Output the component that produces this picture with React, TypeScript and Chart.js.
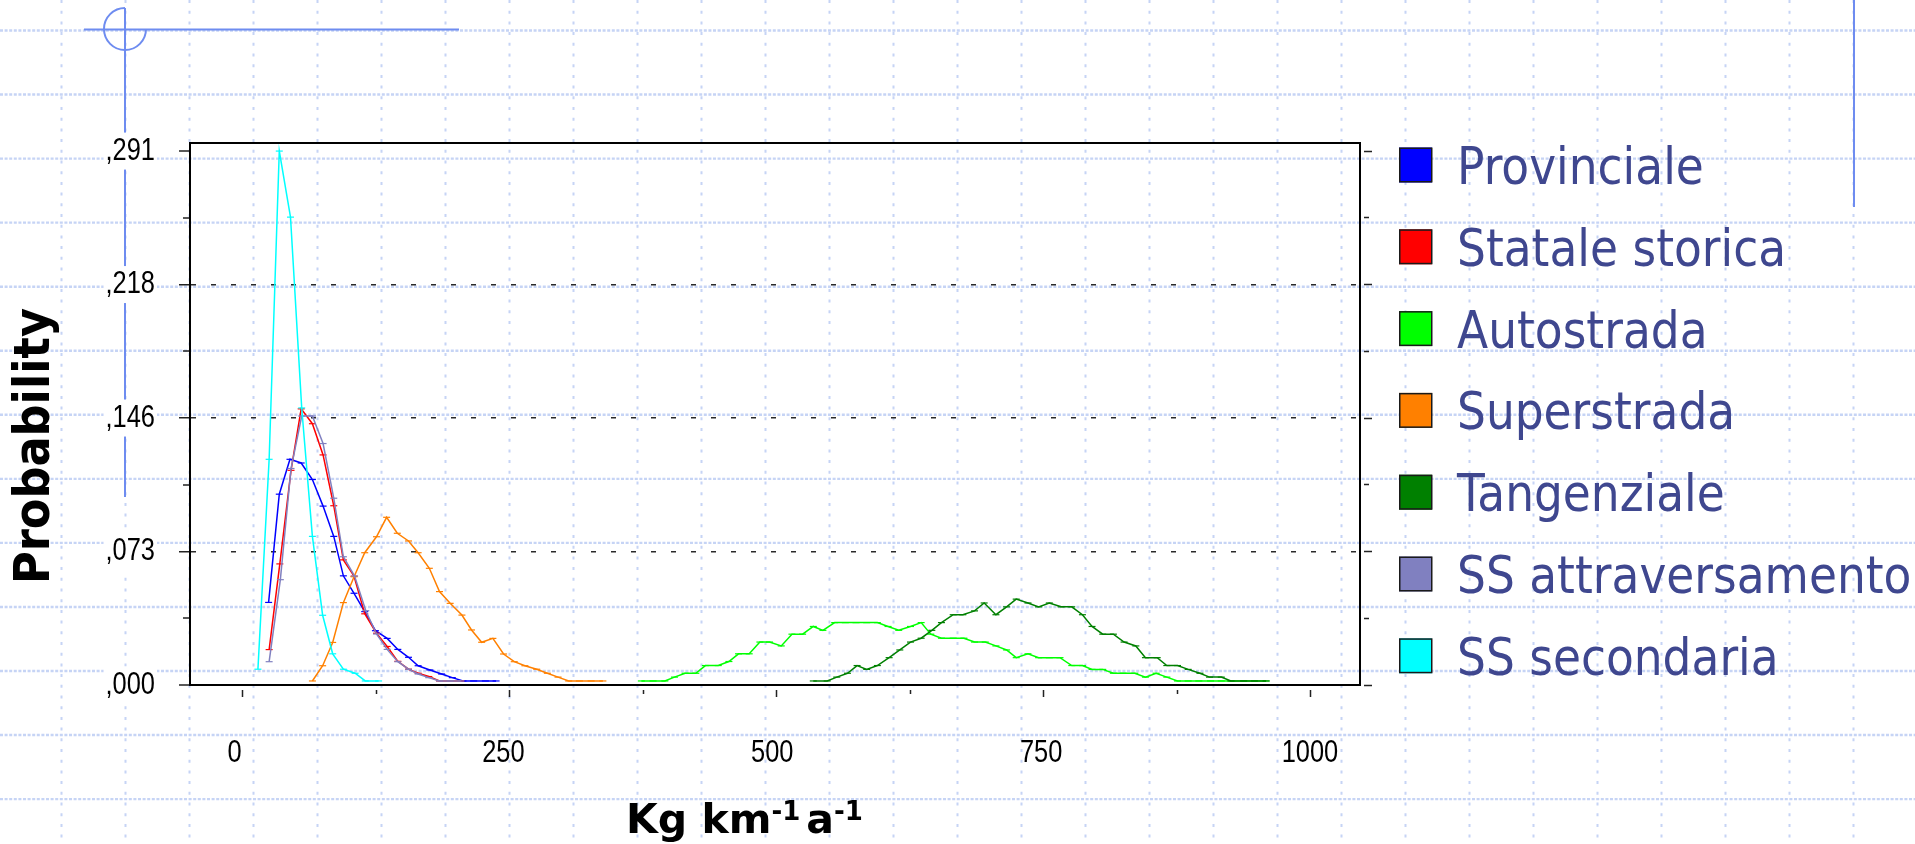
import React, { useEffect, useRef } from 'react';
import { Chart, registerables } from 'chart.js';

Chart.register(...registerables);

// ---------------- data ----------------
const seriesNames = [
  'Provinciale',
  'Statale storica',
  'Autostrada',
  'Superstrada',
  'Tangenziale',
  'SS attraversamento',
  'SS secondaria',
];
const seriesColors = ['#0000ff', '#ff0000', '#00ff00', '#ff8000', '#008000', '#8080c0', '#00ffff'];

const provincialeX = [24, 34, 44, 54.5, 65, 75, 85, 94, 104, 114, 124, 135, 145, 155, 164, 175, 186, 196, 206, 216, 227, 237];
const provincialeY = [0.045, 0.104, 0.123, 0.121, 0.112, 0.0975, 0.081, 0.0595, 0.05, 0.04, 0.0296, 0.0254, 0.0194, 0.0151, 0.0105, 0.0082, 0.006, 0.004, 0.0022, 0.0022, 0.0022, 0.0022];

const stataleX = [24.5, 34.5, 45, 54.5, 65, 75, 85, 94, 104, 114, 125, 135, 145, 155, 164, 174, 184, 194, 204];
const stataleY = [0.0193, 0.066, 0.117, 0.1505, 0.1424, 0.1254, 0.0977, 0.0682, 0.0593, 0.0388, 0.0282, 0.021, 0.0129, 0.0086, 0.0064, 0.0046, 0.0022, 0.0022, 0.0022];

const autostradaX = [373, 384, 395, 404, 414, 424, 433, 445, 455, 464, 474, 484, 493, 504, 514, 524, 534, 543, 554, 564, 574, 584, 594, 604, 614, 625, 635, 644, 654, 665, 675, 685, 695, 705, 715, 724, 735, 745, 755, 765, 776, 786, 795, 805, 815, 824, 835, 845, 855, 865, 875, 885, 895, 906, 916, 926, 937, 947, 958];
const autostradaY = [0.0022, 0.0022, 0.0022, 0.0043, 0.0064, 0.0064, 0.0106, 0.0106, 0.0128, 0.017, 0.017, 0.0234, 0.0234, 0.0213, 0.0277, 0.0277, 0.0319, 0.0298, 0.034, 0.034, 0.034, 0.034, 0.034, 0.0319, 0.0298, 0.0319, 0.034, 0.0277, 0.0255, 0.0255, 0.0255, 0.0234, 0.0234, 0.0213, 0.0191, 0.0149, 0.017, 0.0149, 0.0149, 0.0149, 0.0106, 0.0106, 0.0085, 0.0085, 0.0064, 0.0064, 0.0064, 0.0043, 0.0064, 0.0043, 0.0022, 0.0022, 0.0022, 0.0022, 0.0022, 0.0022, 0.0022, 0.0022, 0.0022];

const superstradaX = [65, 74.6, 84, 94, 104, 114, 125, 134.5, 144.5, 155, 164, 174.5, 184, 194, 205, 214, 223.5, 234, 244, 254, 264, 275, 285, 295, 305, 315, 326, 337];
const superstradaY = [0.0022, 0.0105, 0.0232, 0.0449, 0.059, 0.0721, 0.0808, 0.0914, 0.0827, 0.0785, 0.0721, 0.0636, 0.0509, 0.0445, 0.0381, 0.03, 0.0233, 0.0254, 0.0169, 0.0127, 0.0105, 0.0086, 0.0064, 0.0043, 0.0022, 0.0022, 0.0022, 0.0022];

const tangenzialeX = [534, 547, 556, 566, 575, 584, 594, 605, 615, 625, 635, 645, 654, 665, 674, 685, 694, 705, 715, 724, 735, 745, 755, 766, 776, 786, 795, 805, 815, 825, 836, 845, 856, 865, 875, 885, 896, 905, 916, 925, 937, 947, 958];
const tangenzialeY = [0.0022, 0.0022, 0.0043, 0.0064, 0.0106, 0.0085, 0.0106, 0.0149, 0.0191, 0.0234, 0.0255, 0.0298, 0.034, 0.0383, 0.0383, 0.0404, 0.0447, 0.0383, 0.0426, 0.0468, 0.0447, 0.0426, 0.0447, 0.0426, 0.0426, 0.0383, 0.0319, 0.0277, 0.0277, 0.0234, 0.0213, 0.0149, 0.0149, 0.0106, 0.0106, 0.0085, 0.0064, 0.0043, 0.0043, 0.0022, 0.0022, 0.0022, 0.0022];

const attraversamentoX = [24.5, 35, 45, 55, 65, 75, 85, 94, 104.5, 115, 125, 135, 145, 155, 164, 174, 184, 194, 204];
const attraversamentoY = [0.0127, 0.0574, 0.118, 0.1466, 0.1466, 0.1316, 0.1018, 0.0699, 0.0594, 0.0405, 0.0278, 0.0194, 0.0127, 0.0086, 0.006, 0.004, 0.0022, 0.0022, 0.0022];

const secondariaX = [14, 24.5, 34, 44.5, 55, 65, 74.6, 84, 94, 105, 114.5, 127];
const secondariaY = [0.0086, 0.123, 0.291, 0.255, 0.151, 0.081, 0.038, 0.017, 0.0086, 0.0064, 0.0022, 0.0022];

const xTickValues = [0, 125, 250, 375, 500, 625, 750, 875, 1000];
const xTickLabels = ['0', '', '250', '', '500', '', '750', '', '1000'];
const yTickValues = [0, 0.036375, 0.07275, 0.109125, 0.1455, 0.181875, 0.21825, 0.254625, 0.291];
const yTickLabels = [',000', '', ',073', '', ',146', '', ',218', '', ',291'];
const yGridValues = [0.07275, 0.1455, 0.21825];

const yAxisTitle = 'Probability';
const xAxisTitleParts = [
  { text: 'Kg km', sup: false },
  { text: '-1', sup: true },
  { text: 'a', sup: false },
  { text: '-1', sup: true },
];

const X_MIN = -49.6;
const X_MAX = 1045.9;
const Y_MIN = 0;
const Y_MAX = 0.2954;

// ---------------- helpers ----------------
const seriesX = [provincialeX, stataleX, autostradaX, superstradaX, tangenzialeX, attraversamentoX, secondariaX];
const seriesY = [provincialeY, stataleY, autostradaY, superstradaY, tangenzialeY, attraversamentoY, secondariaY];

const near = (a: number, b: number) => Math.abs(a - b) < 1e-7;
const yLabel = (v: number) => {
  const i = yTickValues.findIndex((t) => near(t, v));
  return i >= 0 ? yTickLabels[i] : '';
};
const xLabel = (v: number) => {
  const i = xTickValues.findIndex((t) => near(t, v));
  return i >= 0 ? xTickLabels[i] : '';
};
const isYGrid = (v: number) => yGridValues.some((g) => near(g, v));

const TICK_FONT = '31px "Liberation Sans", Arial, sans-serif';
const TICK_SQUEEZE = 0.82;

const slidePlugin = {
  id: 'slideDecor',
  beforeDraw(chart: any) {
    const ctx: CanvasRenderingContext2D = chart.ctx;
    const W = chart.width;
    const H = chart.height;
    ctx.save();
    ctx.fillStyle = '#ffffff';
    ctx.fillRect(0, 0, W, H);
    // dotted slide grid
    ctx.strokeStyle = 'rgb(198, 212, 245)';
    ctx.lineWidth = 2.4;
    ctx.setLineDash([3, 1.6]);
    for (let y = 30.5; y < H; y += 64.05) {
      ctx.beginPath();
      ctx.moveTo(0, y);
      ctx.lineTo(W, y);
      ctx.stroke();
    }
    ctx.lineWidth = 2;
    ctx.setLineDash([3, 7.7]);
    for (let x = 61.5; x < W; x += 64) {
      ctx.beginPath();
      ctx.moveTo(x, 0);
      ctx.lineTo(x, H);
      ctx.stroke();
    }
    ctx.setLineDash([]);
    // blue ornaments
    ctx.strokeStyle = '#6e8cf0';
    ctx.lineWidth = 2;
    ctx.beginPath();
    ctx.moveTo(84, 29.5);
    ctx.lineTo(459, 29.5);
    ctx.stroke();
    ctx.beginPath();
    ctx.arc(125, 29, 21, -Math.PI / 2, 0, true);
    ctx.stroke();
    ctx.beginPath();
    ctx.moveTo(125, 8);
    ctx.lineTo(125, 497);
    ctx.stroke();
    ctx.beginPath();
    ctx.moveTo(1854, 0);
    ctx.lineTo(1854, 207);
    ctx.stroke();
    ctx.restore();
  },
  afterDraw(chart: any) {
    const ctx: CanvasRenderingContext2D = chart.ctx;
    ctx.save();

    // y tick labels (condensed, on white backdrop)
    const ys = chart.scales.y;
    ctx.font = TICK_FONT;
    ctx.textBaseline = 'middle';
    yTickValues.forEach((v, i) => {
      const label = yTickLabels[i];
      if (!label) return;
      const py = ys.getPixelForValue(v);
      const right = ys.right - 11 - 24;
      const w = ctx.measureText(label).width * TICK_SQUEEZE;
      ctx.fillStyle = '#ffffff';
      ctx.fillRect(right - w - 2, py - 18.5, w + 4, 37);
      ctx.save();
      ctx.translate(right, py);
      ctx.scale(TICK_SQUEEZE, 1);
      ctx.textAlign = 'right';
      ctx.fillStyle = '#000';
      ctx.fillText(label, 0, 0);
      ctx.restore();
    });

    // x tick labels (the original labels sit slightly left of their ticks, less so to the right)
    const xs = chart.scales.x;
    xTickValues.forEach((v, i) => {
      const label = xTickLabels[i];
      if (!label) return;
      const px = xs.getPixelForValue(v) - 8.5 + 0.0075 * v;
      ctx.save();
      ctx.translate(px, 753);
      ctx.scale(TICK_SQUEEZE, 1);
      ctx.textAlign = 'center';
      ctx.fillStyle = '#000';
      ctx.fillText(label, 0, 0);
      ctx.restore();
    });

    // legend
    const datasets = chart.data.datasets;
    ctx.font = '52px "DejaVu Sans", Tahoma, sans-serif';
    ctx.textAlign = 'left';
    ctx.textBaseline = 'alphabetic';
    datasets.forEach((ds: any, i: number) => {
      const cy = 165 + i * 81.8;
      ctx.fillStyle = ds.backgroundColor;
      ctx.fillRect(1399, cy - 17.5, 33, 35);
      ctx.strokeStyle = '#1a1a1a';
      ctx.lineWidth = 1.5;
      ctx.strokeRect(1399.75, cy - 16.75, 32, 33.5);
      ctx.save();
      ctx.translate(1457, cy + 19);
      ctx.scale(0.875, 1);
      ctx.fillStyle = '#3f478f';
      ctx.fillText(ds.label, 0, 0);
      ctx.restore();
    });

    // y axis title
    ctx.save();
    ctx.translate(49, 446);
    ctx.rotate(-Math.PI / 2);
    ctx.font = 'bold 49px "DejaVu Sans", Verdana, sans-serif';
    ctx.textAlign = 'center';
    ctx.fillStyle = '#000';
    const tw = ctx.measureText(yAxisTitle).width;
    ctx.scale(276 / tw, 1);
    ctx.fillText(yAxisTitle, 0, 0);
    ctx.restore();

    // x axis title with superscripts
    let x = 626;
    const base = 833;
    ctx.fillStyle = '#000';
    ctx.textAlign = 'left';
    xAxisTitleParts.forEach((p, i) => {
      if (p.sup) {
        ctx.font = 'bold 26px "DejaVu Sans", Verdana, sans-serif';
        ctx.fillText(p.text, x, base - 13);
        x += ctx.measureText(p.text).width;
        if (i < xAxisTitleParts.length - 1) x += 6;
      } else {
        ctx.font = 'bold 41px "DejaVu Sans", Verdana, sans-serif';
        ctx.fillText(p.text, x, base);
        x += ctx.measureText(p.text).width;
      }
    });
    ctx.restore();
  },
};

export default function App() {
  const ref = useRef<HTMLCanvasElement>(null);

  useEffect(() => {
    const canvas = ref.current;
    if (!canvas) return;
    const datasets = seriesNames.map((name, i) => ({
      label: name,
      data: seriesX[i].map((x, j) => ({ x, y: seriesY[i][j] })),
      borderColor: seriesColors[i],
      backgroundColor: seriesColors[i],
      borderWidth: 1.5,
      pointStyle: 'line',
      pointRadius: 3.5,
      pointBorderWidth: 1.2,
      pointBorderColor: seriesColors[i],
      pointBackgroundColor: seriesColors[i],
      pointHoverRadius: 0,
      tension: 0,
      fill: false,
      order: seriesNames.length - 1 - i,
    }));

    const chart = new Chart(canvas, {
      type: 'line',
      data: { datasets } as any,
      plugins: [slidePlugin as any],
      options: {
        responsive: false,
        animation: false,
        devicePixelRatio: 1,
        events: [],
        layout: { padding: 0 },
        plugins: {
          legend: { display: false },
          tooltip: { enabled: false },
          title: { display: false },
        },
        scales: {
          x: {
            type: 'linear',
            position: 'bottom',
            min: X_MIN,
            max: X_MAX,
            bounds: 'data',
            afterFit: (s: any) => {
              s.height = 159;
            },
            afterBuildTicks: (s: any) => {
              s.ticks = xTickValues.map((value) => ({ value }));
            },
            ticks: { display: false },
            grid: {
              drawOnChartArea: false,
              drawTicks: true,
              tickLength: 12,
              tickColor: '#222',
              tickWidth: 1.5,
              tickBorderDash: (c: any) => (c.tick && xLabel(c.tick.value) ? [0, 4, 8, 100] : [0, 4, 4, 100]),
            },
            border: { color: '#000', width: 2 },
          },
          x2: {
            type: 'linear',
            position: 'top',
            min: X_MIN,
            max: X_MAX,
            bounds: 'data',
            afterFit: (s: any) => {
              s.height = 143;
            },
            ticks: { display: false },
            grid: { display: false },
            border: { color: '#000', width: 2 },
          },
          y: {
            type: 'linear',
            position: 'left',
            min: Y_MIN,
            max: Y_MAX,
            bounds: 'data',
            afterFit: (s: any) => {
              s.width = 190;
            },
            afterBuildTicks: (s: any) => {
              s.ticks = yTickValues.map((value) => ({ value }));
            },
            ticks: { display: false },
            grid: {
              drawOnChartArea: true,
              color: (c: any) => (c.tick && isYGrid(c.tick.value) ? '#2a2a2a' : 'rgba(0,0,0,0)'),
              lineWidth: (c: any) => (c.tick && isYGrid(c.tick.value) ? 1.5 : 0),
              tickLength: 11,
              tickColor: '#222',
              tickWidth: 1.5,
              tickBorderDash: (c: any) => (c.tick && yLabel(c.tick.value) ? [] : [0, 4, 7, 100]),
            },
            border: { color: '#000', width: 2, dash: [5, 15] },
          },
          y2: {
            type: 'linear',
            position: 'right',
            min: Y_MIN,
            max: Y_MAX,
            bounds: 'data',
            afterFit: (s: any) => {
              s.width = 555;
            },
            afterBuildTicks: (s: any) => {
              s.ticks = yTickValues.map((value) => ({ value }));
            },
            ticks: { display: false },
            grid: {
              drawOnChartArea: false,
              tickLength: 12,
              tickColor: '#222',
              tickWidth: 1.5,
              tickBorderDash: (c: any) => (c.tick && yLabel(c.tick.value) ? [0, 3, 9, 100] : [0, 3, 5, 100]),
            },
            border: { color: '#000', width: 2 },
          },
        },
      } as any,
    });
    return () => chart.destroy();
  }, []);

  return (
    <div style={{ position: 'fixed', left: 0, top: 0, width: 1915, height: 844, background: '#ffffff' }}>
      <canvas ref={ref} width={1915} height={844} style={{ display: 'block', width: 1915, height: 844 }} />
    </div>
  );
}
